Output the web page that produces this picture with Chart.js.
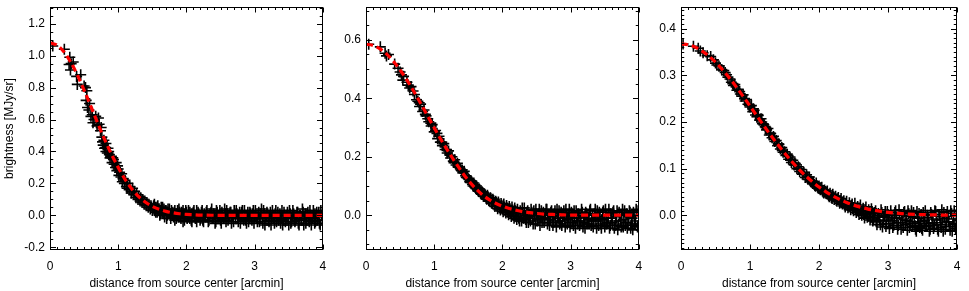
<!DOCTYPE html>
<html><head><meta charset="utf-8">
<script src="https://cdn.jsdelivr.net/npm/chart.js@4"></script>
<style>
html,body{margin:0;padding:0;background:#fff;}
#wrap{position:relative;width:969px;height:291px;overflow:hidden;background:#fff;}
canvas{position:absolute;top:0;}
</style></head><body>
<div id="wrap">
<canvas id="c1" width="330" height="291" style="left:0px"></canvas>
<canvas id="c2" width="316" height="291" style="left:330px"></canvas>
<canvas id="c3" width="324" height="291" style="left:645px"></canvas>
</div>
<script>
// ---------- DATA ----------
const xTicks = [0, 1, 2, 3, 4];
const y1Ticks = [-0.2, 0.0, 0.2, 0.4, 0.6, 0.8, 1.0, 1.2];
const y2Ticks = [0.0, 0.2, 0.4, 0.6];
const y3Ticks = [0.0, 0.1, 0.2, 0.3, 0.4];

const curveX = [0,0.1,0.2,0.3,0.4,0.5,0.6,0.7,0.8,0.9,1.0,1.1,1.2,1.3,1.4,1.5,1.6,1.7,1.8,1.9,2.0,
  2.1,2.2,2.3,2.4,2.5,2.6,2.7,2.8,2.9,3.0,3.1,3.2,3.3,3.4,3.5,3.6,3.7,3.8,3.9,4.0];
const curve1Y = [1.08,1.066,1.026,0.962,0.880,0.784,0.681,0.577,0.476,0.383,0.300,0.225,0.165,0.117,0.082,0.056,0.038,0.025,0.016,0.010,0.006,
  0.004,0.002,0.001,0.0005,0,0,0,0,0,0,0,0,0,0,0,0,0,0,0,0];
const curve2Y = [0.585,0.581,0.570,0.552,0.527,0.497,0.462,0.424,0.383,0.341,0.299,0.258,0.220,0.184,0.150,0.119,0.093,0.071,0.054,0.041,0.031,
  0.023,0.017,0.012,0.009,0.006,0.004,0.003,0.002,0.001,0,0,0,0,0,0,0,0,0,0,0];
const curve3Y = [0.367,0.3654,0.3605,0.3524,0.3415,0.328,0.312,0.2944,0.2752,0.2549,0.234,0.2129,0.192,0.1715,0.152,0.1333,0.116,0.100,0.0854,0.0723,0.0607,
  0.0504,0.0416,0.034,0.0275,0.022,0.0175,0.0138,0.0108,0.0083,0.0064,0.0049,0.0037,0.0027,0.002,0.0015,0.0011,0.0008,0.0005,0.0004,0.0003];

const panel1Points = [
 [0.04,1.06],[0.21,1.04],[0.28,0.945],[0.29,0.99],[0.30,0.91],[0.31,0.95],[0.34,0.96],[0.39,0.87],[0.40,0.82],[0.45,0.88],
 [0.50,0.81],[0.52,0.80],[0.53,0.72],[0.54,0.78],[0.55,0.675],[0.57,0.66],[0.60,0.62],[0.62,0.63],[0.645,0.60],[0.67,0.62],
 [0.71,0.61],[0.72,0.57],[0.74,0.53],[0.76,0.49],[0.77,0.46],[0.78,0.44],
 [0.79,0.47],[0.80,0.42],[0.815,0.425],[0.82,0.45],[0.84,0.39],[0.85,0.42],[0.87,0.38],[0.88,0.36],[0.90,0.37],[0.91,0.33],
 [0.93,0.35],[0.94,0.32],[0.96,0.30],[0.97,0.33],[0.98,0.28],[1.00,0.29],
 [1.01,0.25],[1.02,0.27],[1.04,0.24],[1.05,0.26],[1.06,0.21],[1.07,0.23],[1.09,0.20],[1.10,0.22],[1.12,0.18],[1.13,0.17],
 [1.14,0.20],[1.16,0.16],[1.17,0.18],[1.19,0.14],[1.20,0.15],[1.21,0.17],[1.23,0.13],[1.24,0.15],[1.26,0.11],[1.27,0.13],
 [1.29,0.10],[1.30,0.12],[1.32,0.09],[1.33,0.11],[1.35,0.08],[1.36,0.10],[1.38,0.07],[1.39,0.09],[1.41,0.06],[1.42,0.08],
 [1.44,0.05],[1.45,0.07],[1.47,0.04],[1.48,0.06],[1.50,0.03],
 [1.52,0.06],[1.53,0.03],[1.55,0.05],[1.57,0.02],[1.58,0.06],[1.60,0.03],[1.62,0.01],[1.63,0.05],[1.65,0.02],[1.67,0.04],
 [1.68,-0.01],[1.70,0.03],[1.72,0.00],[1.73,0.04],[1.75,0.01],[1.77,-0.02],[1.78,0.03],[1.80,0.00],[1.82,0.02],[1.83,-0.03],
 [1.85,0.01],[1.87,0.03],[1.88,-0.01],[1.90,0.02],[1.92,-0.02],[1.93,0.01],[1.95,0.03],[1.97,-0.03],[1.98,0.00],[2.00,0.02],
 [2.02,-0.01],[2.03,0.03],[2.05,-0.02],[2.07,0.01],[2.08,-0.04],[2.10,0.02],[2.12,0.00],[2.13,-0.02],[2.15,0.03],[2.17,-0.01],
 [2.18,0.01],[2.20,-0.03],
 [2.22,0.02],[2.24,-0.03],[2.26,0.01],[2.28,-0.01],[2.30,0.03],[2.32,-0.04],[2.34,0.00],[2.36,0.02],[2.38,-0.02],[2.40,0.01],
 [2.42,-0.05],[2.44,0.03],[2.46,-0.01],[2.48,0.00],[2.50,-0.03],[2.52,0.02],[2.54,-0.02],[2.56,0.04],[2.58,-0.04],[2.60,0.01],
 [2.62,-0.01],[2.64,0.02],[2.66,-0.05],[2.68,0.00],[2.70,0.03],[2.72,-0.02],[2.74,0.01],[2.76,-0.04],[2.78,0.02],[2.80,-0.01],
 [2.82,0.03],[2.84,-0.03],[2.86,0.00],[2.88,-0.05],[2.90,0.02],[2.92,-0.02],[2.94,0.01],[2.96,-0.03],[2.98,0.03],[3.00,-0.01],
 [3.02,0.00],[3.04,-0.04],[3.06,0.02],[3.08,-0.02],[3.10,0.04],[3.12,-0.05],[3.14,0.01],[3.16,-0.01],[3.18,0.02],[3.20,-0.03],
 [3.22,0.00],[3.24,-0.06],[3.26,0.03],[3.28,-0.02],[3.30,0.01],[3.32,-0.04],[3.34,0.02],[3.36,-0.01],[3.38,-0.05],[3.40,0.03],
 [3.42,-0.03],[3.44,0.00],[3.46,-0.02],[3.48,0.02],[3.50,-0.06],[3.52,0.01],[3.54,-0.04],[3.56,0.03],[3.58,-0.01],[3.60,-0.03],
 [3.62,0.02],[3.64,-0.05],[3.66,0.00],[3.68,-0.02],[3.70,0.04],[3.72,-0.06],[3.74,0.01],[3.76,-0.03],[3.78,0.02],[3.80,-0.04],
 [3.82,0.00],[3.84,-0.01],[3.86,0.03],[3.88,-0.05],[3.90,0.01],[3.92,-0.03],[3.94,0.02],[3.96,-0.06],[3.98,0.00]
];
const panel1Extra = [
 [0.58,0.70],[0.63,0.58],[0.69,0.56],[0.75,0.55],[0.82,0.40],[0.86,0.40],[0.92,0.36],[0.99,0.31],
 [1.51,0.04],[1.53,0.07],[1.55,0.02],[1.57,0.05],[1.59,0.03],[1.61,0.00],[1.63,0.03],[1.65,0.05],[1.67,0.01],[1.69,0.03],
 [1.71,-0.02],[1.73,0.02],[1.75,0.04],[1.77,0.00],[1.79,0.02],[1.81,-0.01],[1.83,0.03],[1.85,-0.02],[1.87,0.00],[1.89,0.04],
 [1.91,-0.01],[1.93,0.02],[1.95,-0.04],[1.97,0.01],[1.99,0.03],[2.01,-0.02],[2.03,0.00],[2.05,0.02],[2.07,-0.03],[2.09,0.01],
 [2.11,0.03],[2.13,-0.01],[2.15,-0.04],[2.17,0.02],[2.19,0.00],[2.21,-0.02],[2.23,0.03],[2.25,-0.04],[2.27,0.00],[2.29,0.02],
 [2.31,-0.01],[2.33,-0.03],[2.35,0.01],[2.37,0.04],[2.39,-0.02],[2.41,0.00],[2.43,-0.04],[2.45,0.02],[2.47,-0.01],[2.49,0.03],
 [2.51,-0.05],[2.53,0.00],[2.55,-0.02],[2.57,0.01],[2.59,0.03],[2.61,-0.03],[2.63,0.00],[2.65,0.02],[2.67,-0.01],[2.69,-0.04],
 [2.71,0.01],[2.73,0.03],[2.75,-0.02],[2.77,0.00],[2.79,-0.05],[2.81,0.02],[2.83,-0.01],[2.85,0.03],[2.87,-0.03],[2.89,0.00],
 [2.91,-0.04],[2.93,0.02],[2.95,-0.01],[2.97,0.01],[2.99,-0.05],[3.01,0.03],[3.03,-0.02],[3.05,0.00],[3.07,-0.04],[3.09,0.01],
 [3.11,-0.02],[3.13,0.03],[3.15,-0.06],[3.17,-0.01],[3.19,0.01],[3.21,-0.04],[3.23,0.02],[3.25,-0.02],[3.27,0.00],[3.29,-0.05],
 [3.31,0.03],[3.33,-0.01],[3.35,-0.03],[3.37,0.01],[3.39,-0.02],[3.41,-0.06],[3.43,0.02],[3.45,-0.04],[3.47,0.00],[3.49,-0.02],
 [3.51,0.03],[3.53,-0.05],[3.55,-0.01],[3.57,0.01],[3.59,-0.04],[3.61,-0.02],[3.63,0.02],[3.65,-0.06],[3.67,0.00],[3.69,-0.03],
 [3.71,0.02],[3.73,-0.01],[3.75,-0.05],[3.77,0.01],[3.79,-0.02],[3.81,0.03],[3.83,-0.06],[3.85,-0.02],[3.87,0.01],[3.89,-0.04],
 [3.91,0.02],[3.93,-0.01],[3.95,-0.05],[3.97,0.03],[3.99,-0.03]
];

const panel2Points = [
 [0.04,0.585],[0.21,0.576],[0.28,0.554],[0.30,0.545],[0.33,0.550],[0.42,0.517],[0.47,0.503],[0.50,0.490],[0.52,0.480],[0.54,0.462],
 [0.55,0.475],[0.62,0.445],[0.64,0.435],[0.66,0.440],[0.71,0.413],[0.74,0.395],[0.76,0.390],[0.785,0.372],[0.80,0.380],[0.83,0.355],
 [0.85,0.360],[0.87,0.345],[0.905,0.330],[0.92,0.320],[0.955,0.305],[0.97,0.310],[1.00,0.285],[1.02,0.290],[1.05,0.262],[1.07,0.270],
 [1.09,0.250],[1.12,0.238],[1.14,0.245],[1.16,0.225],[1.19,0.213],[1.21,0.220],[1.24,0.196],[1.26,0.200],[1.28,0.185],[1.30,0.190],
 [1.32,0.172],[1.34,0.178],[1.36,0.165],[1.38,0.160],[1.40,0.152],[1.42,0.145],[1.44,0.150],[1.46,0.135],[1.48,0.128],[1.50,0.125],
 [1.52,0.115],[1.54,0.118],[1.56,0.105],[1.58,0.110],[1.60,0.095],[1.62,0.100],[1.64,0.085],[1.66,0.090],[1.68,0.075],[1.70,0.080],
 [1.72,0.065],[1.74,0.072],[1.76,0.058],[1.78,0.068],[1.80,0.050],[1.82,0.060],[1.84,0.042],[1.86,0.055],[1.88,0.035],[1.90,0.048],
 [1.92,0.030],[1.94,0.045],[1.96,0.025],[1.98,0.040],[2.00,0.020],[2.02,0.038],[2.04,0.015],[2.06,0.033],[2.08,0.010],[2.10,0.030],
 [2.12,0.005],[2.14,0.028],[2.16,0.000],[2.18,0.025],[2.20,-0.005],
 [2.22,0.020],[2.24,-0.010],[2.26,0.015],[2.28,-0.020],[2.30,0.005],[2.32,0.025],[2.34,-0.015],[2.36,0.010],[2.38,-0.025],[2.40,0.000],
 [2.42,0.020],[2.44,-0.010],[2.46,0.015],[2.48,-0.030],[2.50,0.005],[2.52,-0.015],[2.54,0.020],[2.56,-0.005],[2.58,-0.025],[2.60,0.010],
 [2.62,-0.010],[2.64,0.020],[2.66,-0.030],[2.68,0.000],[2.70,-0.015],[2.72,0.015],[2.74,-0.035],[2.76,0.005],[2.78,-0.020],[2.80,0.020],
 [2.82,-0.010],[2.84,-0.030],[2.86,0.010],[2.88,-0.020],[2.90,0.015],[2.92,-0.040],[2.94,0.000],[2.96,-0.015],[2.98,0.020],[3.00,-0.025],
 [3.02,0.005],[3.04,-0.035],[3.06,-0.010],[3.08,0.015],[3.10,-0.030],[3.12,0.000],[3.14,-0.020],[3.16,0.020],[3.18,-0.040],[3.20,-0.005],
 [3.22,0.010],[3.24,-0.030],[3.26,-0.015],[3.28,0.015],[3.30,-0.035],[3.32,0.000],[3.34,-0.020],[3.36,0.020],[3.38,-0.045],[3.40,-0.010],
 [3.42,0.010],[3.44,-0.030],[3.46,-0.015],[3.48,0.015],[3.50,-0.040],[3.52,0.000],[3.54,-0.025],[3.56,0.020],[3.58,-0.035],[3.60,-0.010],
 [3.62,0.010],[3.64,-0.045],[3.66,-0.020],[3.68,0.015],[3.70,-0.030],[3.72,0.000],[3.74,-0.040],[3.76,0.020],[3.78,-0.015],[3.80,-0.035],
 [3.82,0.005],[3.84,-0.025],[3.86,0.015],[3.88,-0.045],[3.90,-0.010],[3.92,0.010],[3.94,-0.030],[3.96,0.020],[3.98,-0.040]
];
const panel2Extra = [
 [0.60,0.455],[0.69,0.425],[0.78,0.385],[0.88,0.340],[0.95,0.315],[1.04,0.280],[1.11,0.250],[1.18,0.225],[1.23,0.205],[1.29,0.180],
 [1.35,0.165],[1.41,0.155],[1.47,0.130],
 [1.51,0.122],[1.53,0.112],[1.55,0.114],[1.57,0.100],[1.59,0.104],[1.61,0.092],[1.63,0.094],[1.65,0.082],[1.67,0.086],[1.69,0.072],
 [1.71,0.078],[1.73,0.064],[1.75,0.068],[1.77,0.055],[1.79,0.062],[1.81,0.048],[1.83,0.058],[1.85,0.040],[1.87,0.050],[1.89,0.030],
 [1.91,0.044],[1.93,0.022],[1.95,0.038],[1.97,0.018],[1.99,0.034],[2.01,0.012],[2.03,0.028],[2.05,0.008],[2.07,0.025],[2.09,0.002],
 [2.11,0.022],[2.13,-0.004],[2.15,0.018],[2.17,-0.010],[2.19,0.015],[2.21,-0.015],[2.23,0.010],[2.25,-0.020],[2.27,0.005],[2.29,0.025],
 [2.31,-0.010],[2.33,0.000],[2.35,-0.025],[2.37,0.015],[2.39,-0.005],[2.41,-0.020],[2.43,0.010],[2.45,-0.030],[2.47,0.000],[2.49,0.020],
 [2.51,-0.020],[2.53,0.005],[2.55,-0.035],[2.57,0.015],[2.59,-0.010],[2.61,-0.025],[2.63,0.005],[2.65,0.020],[2.67,-0.015],[2.69,-0.035],
 [2.71,0.010],[2.73,-0.005],[2.75,-0.025],[2.77,0.015],[2.79,-0.040],[2.81,0.000],[2.83,0.015],[2.85,-0.020],[2.87,-0.035],[2.89,0.005],
 [2.91,-0.010],[2.93,0.020],[2.95,-0.030],[2.97,-0.005],[2.99,-0.040],[3.01,0.010],[3.03,-0.020],[3.05,0.015],[3.07,-0.045],[3.09,-0.010],
 [3.11,0.005],[3.13,-0.035],[3.15,-0.020],[3.17,0.010],[3.19,-0.025],[3.21,-0.045],[3.23,0.005],[3.25,-0.010],[3.27,-0.030],[3.29,0.020],
 [3.31,-0.020],[3.33,-0.040],[3.35,0.005],[3.37,-0.015],[3.39,0.015],[3.41,-0.035],[3.43,-0.005],[3.45,-0.045],[3.47,0.010],[3.49,-0.020],
 [3.51,0.020],[3.53,-0.030],[3.55,-0.010],[3.57,-0.045],[3.59,0.005],[3.61,-0.025],[3.63,0.015],[3.65,-0.035],[3.67,-0.005],[3.69,-0.050],
 [3.71,0.010],[3.73,-0.020],[3.75,0.000],[3.77,-0.040],[3.79,0.015],[3.81,-0.025],[3.83,-0.045],[3.85,-0.005],[3.87,0.010],[3.89,-0.030],
 [3.91,-0.050],[3.93,0.000],[3.95,-0.020],[3.97,0.015],[3.99,-0.035]
];

const panel3Points = [
 [0.03,0.367],[0.18,0.362],[0.25,0.358],[0.28,0.352],[0.32,0.348],[0.38,0.342],[0.43,0.340],[0.47,0.333],[0.50,0.326],[0.52,0.322],
 [0.55,0.320],[0.59,0.312],[0.62,0.310],[0.66,0.301],[0.68,0.296],[0.71,0.292],[0.73,0.285],[0.76,0.278],[0.78,0.280],[0.81,0.268],
 [0.83,0.270],[0.86,0.260],[0.88,0.255],[0.90,0.258],[0.93,0.245],[0.95,0.248],[0.97,0.238],[1.00,0.232],[1.02,0.235],[1.04,0.222],
 [1.06,0.225],[1.08,0.215],[1.10,0.211],[1.12,0.214],[1.14,0.204],[1.16,0.207],[1.18,0.196],[1.20,0.194],[1.22,0.190],[1.24,0.183],
 [1.26,0.186],[1.28,0.172],[1.30,0.175],[1.32,0.166],[1.34,0.169],[1.36,0.158],[1.38,0.160],[1.40,0.149],[1.42,0.152],[1.44,0.142],
 [1.46,0.145],[1.48,0.135],[1.50,0.136],[1.52,0.128],[1.54,0.131],[1.56,0.120],[1.58,0.125],[1.60,0.113],[1.62,0.118],[1.64,0.108],
 [1.66,0.110],[1.68,0.100],[1.70,0.104],[1.72,0.094],[1.74,0.098],[1.76,0.088],[1.78,0.092],[1.80,0.081],[1.82,0.087],[1.84,0.077],
 [1.86,0.082],[1.88,0.074],[1.90,0.070],[1.92,0.072],[1.94,0.064],[1.96,0.069],[1.98,0.060],[2.00,0.063],[2.02,0.055],[2.04,0.060],
 [2.06,0.050],[2.08,0.054],[2.10,0.047],[2.12,0.052],[2.14,0.042],[2.16,0.047],[2.18,0.038],[2.20,0.045],[2.22,0.034],[2.24,0.041],
 [2.26,0.030],[2.28,0.038],[2.30,0.026],[2.32,0.036],[2.34,0.024],[2.36,0.031],[2.38,0.018],[2.40,0.030],[2.42,0.016],[2.44,0.027],
 [2.46,0.012],[2.48,0.024],[2.50,0.010],[2.52,0.026],[2.54,0.006],[2.56,0.019],[2.58,0.002],[2.60,0.022],[2.62,0.000],[2.64,0.015],
 [2.66,-0.006],[2.68,0.018],[2.70,-0.004],[2.72,0.012],[2.74,-0.010],[2.76,0.014],[2.78,-0.012],[2.80,0.006],
 [2.82,0.010],[2.84,-0.020],[2.86,0.004],[2.88,-0.010],[2.90,0.012],[2.92,-0.025],[2.94,-0.004],[2.96,0.008],[2.98,-0.018],[3.00,0.002],
 [3.02,-0.028],[3.04,0.010],[3.06,-0.012],[3.08,-0.022],[3.10,0.006],[3.12,-0.006],[3.14,-0.030],[3.16,0.012],[3.18,-0.016],[3.20,0.000],
 [3.22,-0.026],[3.24,0.008],[3.26,-0.010],[3.28,-0.032],[3.30,0.004],[3.32,-0.018],[3.34,0.010],[3.36,-0.024],[3.38,-0.004],[3.40,-0.030],
 [3.42,0.008],[3.44,-0.014],[3.46,-0.026],[3.48,0.002],[3.50,-0.032],[3.52,-0.008],[3.54,0.010],[3.56,-0.022],[3.58,-0.004],[3.60,-0.034],
 [3.62,0.006],[3.64,-0.016],[3.66,-0.028],[3.68,0.010],[3.70,-0.010],[3.72,-0.030],[3.74,0.002],[3.76,-0.020],[3.78,0.012],[3.80,-0.034],
 [3.82,-0.006],[3.84,-0.024],[3.86,0.008],[3.88,-0.014],[3.90,-0.032],[3.92,0.004],[3.94,-0.020],[3.96,0.010],[3.98,-0.028]
];
const panel3Extra = [
 [0.64,0.306],[0.75,0.282],[0.85,0.265],[0.92,0.250],[0.99,0.236],[1.05,0.228],[1.11,0.216],[1.17,0.200],[1.23,0.188],[1.29,0.176],
 [1.35,0.163],[1.41,0.153],[1.47,0.139],[1.53,0.129],[1.59,0.118],[1.65,0.112],[1.71,0.099],[1.77,0.090],[1.83,0.082],
 [1.89,0.072],[1.91,0.068],[1.93,0.066],[1.95,0.062],[1.97,0.064],[1.99,0.058],[2.01,0.057],[2.03,0.058],[2.05,0.052],[2.07,0.048],
 [2.09,0.051],[2.11,0.046],[2.13,0.045],[2.15,0.040],[2.17,0.043],[2.19,0.036],[2.21,0.040],[2.23,0.037],[2.25,0.032],[2.27,0.035],
 [2.29,0.030],[2.31,0.031],[2.33,0.027],[2.35,0.029],[2.37,0.022],[2.39,0.025],[2.41,0.021],[2.43,0.020],[2.45,0.018],[2.47,0.021],
 [2.49,0.014],[2.51,0.017],[2.53,0.012],[2.55,0.015],[2.57,0.008],[2.59,0.011],[2.61,0.004],[2.63,0.009],[2.65,0.002],[2.67,0.010],
 [2.69,0.003],[2.71,-0.002],[2.73,0.005],[2.75,-0.005],[2.77,0.008],[2.79,-0.008],[2.81,0.004],[2.83,-0.014],[2.85,0.000],[2.87,-0.004],
 [2.89,-0.020],[2.91,0.006],[2.93,-0.012],[2.95,-0.002],[2.97,-0.024],[2.99,0.008],[3.01,-0.008],[3.03,-0.018],[3.05,0.000],[3.07,-0.026],
 [3.09,-0.004],[3.11,0.010],[3.13,-0.016],[3.15,-0.022],[3.17,0.002],[3.19,-0.030],[3.21,-0.008],[3.23,0.006],[3.25,-0.020],[3.27,-0.012],
 [3.29,0.010],[3.31,-0.026],[3.33,-0.002],[3.35,-0.014],[3.37,0.006],[3.39,-0.022],[3.41,-0.034],[3.43,-0.006],[3.45,0.004],[3.47,-0.018],
 [3.49,-0.028],[3.51,0.006],[3.53,-0.012],[3.55,-0.024],[3.57,0.000],[3.59,-0.018],[3.61,-0.030],[3.63,0.002],[3.65,-0.008],[3.67,-0.022],
 [3.69,0.008],[3.71,-0.016],[3.73,-0.034],[3.75,-0.002],[3.77,-0.026],[3.79,-0.010],[3.81,0.006],[3.83,-0.030],[3.85,-0.014],[3.87,-0.002],
 [3.89,-0.024],[3.91,0.010],[3.93,-0.034],[3.95,-0.008],[3.97,-0.018],[3.99,0.000]
];

// ---------- RENDERING ----------
const FONT = '"Liberation Sans", Arial, Helvetica, sans-serif';
Chart.defaults.font.family = FONT;
Chart.defaults.color = '#000';

const framePlugin = {
  id: 'frame',
  afterDraw(chart) {
    const o = chart.options.plugins.frame;
    const {ctx, chartArea: a, scales: {x, y}} = chart;
    const L = Math.round(a.left) + 0.5, R = Math.round(a.right) - 0.5;
    const T = Math.round(a.top) + 0.5, B = Math.round(a.bottom) - 0.5;
    ctx.save();
    ctx.strokeStyle = '#000';
    ctx.lineWidth = 1;
    ctx.strokeRect(L, T, R - L, B - T);
    ctx.beginPath();
    const n = Math.round((x.max - x.min) / o.xMinor);
    for (let i = 0; i <= n; i++) {
      const v = x.min + i * o.xMinor;
      const major = Math.abs(v / o.xMajor - Math.round(v / o.xMajor)) < 1e-6;
      const len = major ? 5 : 2.5;
      const px = Math.round(x.getPixelForValue(v)) + 0.5;
      ctx.moveTo(px, B); ctx.lineTo(px, B - len);
      ctx.moveTo(px, T); ctx.lineTo(px, T + len);
    }
    const k0 = Math.ceil(y.min / o.yMinor - 1e-6), k1 = Math.floor(y.max / o.yMinor + 1e-6);
    for (let k = k0; k <= k1; k++) {
      const v = k * o.yMinor;
      const major = Math.abs(v / o.yMajor - Math.round(v / o.yMajor)) < 1e-6;
      const len = major ? 5.5 : 2.75;
      const py = Math.round(y.getPixelForValue(v)) + 0.5;
      ctx.moveTo(L, py); ctx.lineTo(L + len, py);
      ctx.moveTo(R, py); ctx.lineTo(R - len, py);
    }
    ctx.stroke();
    ctx.restore();
  }
};

function makePanel(id, points, curveY, yMin, yMax, yTicks, yMajor, yMinor, axisW, padRight, showTitle) {
  new Chart(document.getElementById(id), {
    type: 'scatter',
    data: {
      datasets: [
        {
          data: curveX.map((xv, i) => ({x: xv, y: curveY[i]})),
          showLine: true, borderColor: '#ff0000', borderWidth: 3.2, borderDash: [7, 4],
          pointRadius: 0, fill: false, order: 0, clip: 0, cubicInterpolationMode: 'monotone'
        },
        {
          data: points.map(p => ({x: p[0], y: p[1]})),
          pointStyle: 'cross', pointRadius: 5.5, borderColor: '#000', backgroundColor: '#000',
          borderWidth: 1.6, order: 1, clip: 0
        }
      ]
    },
    options: {
      responsive: false, animation: false, events: [],
      layout: {padding: {top: 5, right: padRight, left: 0, bottom: 0}},
      plugins: {
        legend: {display: false}, tooltip: {enabled: false},
        frame: {xMajor: 1, xMinor: 0.1, yMajor: yMajor, yMinor: yMinor}
      },
      scales: {
        x: {
          type: 'linear', min: 0, max: 4,
          grid: {display: false, drawTicks: false}, border: {display: false},
          afterBuildTicks: s => { s.ticks = xTicks.map(v => ({value: v})); },
          afterFit: s => { s.height = 41; s.paddingLeft = 0; s.paddingRight = 0; s.paddingTop = 0; s.paddingBottom = 0; },
          ticks: {padding: 9.5, color: '#000', font: {family: FONT, size: 12}, maxRotation: 0, autoSkip: false,
                  callback: v => String(v)},
          title: {display: true, text: 'distance from source center [arcmin]', color: '#000',
                  font: {family: FONT, size: 12, lineHeight: 1}, padding: {top: 0, bottom: 1}}
        },
        y: {
          type: 'linear', min: yMin, max: yMax,
          grid: {display: false, drawTicks: false}, border: {display: false},
          afterBuildTicks: s => { s.ticks = yTicks.map(v => ({value: v})); },
          afterFit: s => { s.width = axisW; s.paddingLeft = 0; s.paddingRight = 0; s.paddingTop = 0; s.paddingBottom = 0; },
          ticks: {padding: 5, color: '#000', font: {family: FONT, size: 12}, autoSkip: false,
                  callback: v => Number(v).toFixed(1)},
          title: {display: showTitle, text: 'brightness [MJy/sr]', color: '#000',
                  font: {family: FONT, size: 12, lineHeight: 1}, padding: {top: 4, bottom: 0}}
        }
      }
    },
    plugins: [framePlugin]
  });
}

makePanel('c1', panel1Points.concat(panel1Extra), curve1Y, -0.217, 1.304, y1Ticks, 0.2, 0.05, 50, 4, true);
makePanel('c2', panel2Points.concat(panel2Extra), curve2Y, -0.119, 0.712, y2Ticks, 0.2, 0.05, 36, 4, false);
makePanel('c3', panel3Points.concat(panel3Extra), curve3Y, -0.0743, 0.446, y3Ticks, 0.1, 0.01, 36, 12, false);
</script>
</body></html>
